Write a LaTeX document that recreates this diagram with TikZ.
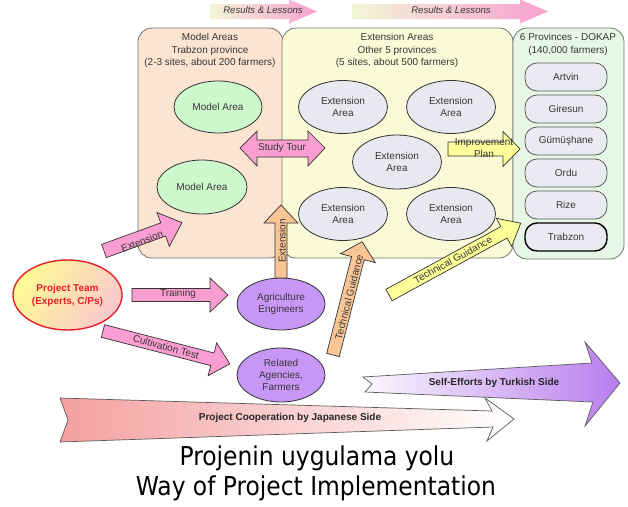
\documentclass[tikz,border=0pt]{standalone}
\usepackage{fontspec}
\setmainfont{Liberation Sans}
\newfontfamily\titlefont{DejaVu Sans Condensed}
\usetikzlibrary{shapes.geometric}
\definecolor{txt}{RGB}{55,55,55}
\definecolor{boxline}{RGB}{115,115,115}
\definecolor{darkline}{RGB}{50,50,50}
\definecolor{peach}{RGB}{251,228,208}
\definecolor{extbg}{RGB}{250,251,214}
\definecolor{provbg}{RGB}{230,247,230}
\definecolor{mgreen}{RGB}{204,248,204}
\definecolor{egray}{RGB}{232,232,240}
\definecolor{pgray}{RGB}{234,234,242}
\definecolor{purp}{RGB}{200,150,245}
\definecolor{pinkA}{RGB}{250,158,210}
\definecolor{orangeA}{RGB}{250,198,150}
\definecolor{yellowA}{RGB}{255,255,153}
\definecolor{resL}{RGB}{242,246,214}
\definecolor{resR}{RGB}{248,160,208}
\definecolor{japL}{RGB}{244,160,160}
\definecolor{turL}{RGB}{250,248,253}
\definecolor{turR}{RGB}{185,125,238}
\definecolor{ptred}{RGB}{230,30,40}
\definecolor{ptyel}{RGB}{255,250,150}
\definecolor{ptpink}{RGB}{248,200,205}
\newcommand{\blockarrow}[7]{%
  \begin{scope}[shift={(#2)},rotate=#3]
    \path[#1] (0,-#5) -- ({#4-#7},-#5) -- ({#4-#7},-#6) -- (#4,0) -- ({#4-#7},#6) -- ({#4-#7},#5) -- (0,#5) -- cycle;
  \end{scope}}
\begin{document}
\begin{tikzpicture}[x=1pt,y=-1pt,
  lbl/.style={font=\fontsize{10}{12}\selectfont, text=txt, inner sep=0pt, align=center},
  hdr/.style={font=\fontsize{10}{12.5}\selectfont, text=txt, inner sep=0pt, align=center},
  areabox/.style={draw=boxline, line width=0.8pt, rounded corners=14pt, inner sep=0pt},
  ell/.style={ellipse, draw=darkline, line width=0.8pt, inner sep=0pt, font=\fontsize{10}{12}\selectfont, text=txt, align=center},
  pill/.style={draw=darkline!80, line width=0.8pt, rounded corners=12pt, fill=pgray, minimum width=82pt, minimum height=28pt, inner sep=0pt, font=\fontsize{10}{12}\selectfont, text=txt},
  arrline/.style={draw=darkline, line width=0.7pt},
  pinkarr/.style={arrline, fill=pinkA},
  orangearr/.style={arrline, fill=orangeA},
  yellowarr/.style={arrline, fill=yellowA},
  resarr/.style={left color=resL, right color=resR},
  bold/.style={font=\bfseries\fontsize{10}{12}\selectfont, text=black!85, inner sep=0pt}
]
\useasboundingbox (0,0) rectangle (628,506);
\fill[white] (0,0) rectangle (628,506);

% Results & Lessons arrows
\blockarrow{resarr}{210,11.5}{0}{107}{7.5}{12}{28}
\blockarrow{resarr}{352,11.5}{0}{196}{7.5}{12}{28}
\node[lbl, font=\itshape\fontsize{9.6}{12}\selectfont] (res1) at (263,10.5) {Results \& Lessons};
\node[lbl, font=\itshape\fontsize{9.6}{12}\selectfont] (res2) at (451,10.5) {Results \& Lessons};

% Area boxes
\node[areabox, fill=peach, minimum width=145pt, minimum height=230pt] (mbox) at (210.5,143) {};
\node[areabox, fill=extbg, minimum width=231pt, minimum height=230pt] (ebox) at (397.5,143) {};
\node[areabox, fill=provbg, minimum width=111pt, minimum height=231pt] (pbox) at (568.5,143.5) {};

\node[hdr] (mhdr) at (210,50.5) {Model Areas\\Trabzon province\\(2-3 sites, about 200 farmers)};
\node[hdr] (ehdr) at (397,50.5) {Extension Areas\\Other 5 provinces\\(5 sites, about 500 farmers)};
\node[hdr] (phdr) at (568,44.5) {6 Provinces - DOKAP\\(140,000 farmers)};

% Model areas
\node[ell, fill=mgreen, minimum width=88pt, minimum height=52pt] (ma1) at (218,107) {Model Area};
\node[ell, fill=mgreen, minimum width=90pt, minimum height=54pt] (ma2) at (202,187) {Model Area};

% Extension areas
\node[ell, fill=egray, minimum width=89pt, minimum height=53pt] (ea1) at (343,107) {Extension\\Area};
\node[ell, fill=egray, minimum width=89pt, minimum height=53pt] (ea2) at (451,107) {Extension\\Area};
\node[ell, fill=egray, minimum width=89pt, minimum height=54pt] (ea3) at (397,162) {Extension\\Area};
\node[ell, fill=egray, minimum width=89pt, minimum height=53pt] (ea4) at (343,214) {Extension\\Area};
\node[ell, fill=egray, minimum width=89pt, minimum height=53pt] (ea5) at (451,214) {Extension\\Area};

% Provinces
\node[pill] (artvin) at (566,77) {Artvin};
\node[pill] (giresun) at (566,109) {Giresun};
\node[pill] (gumus) at (566,141) {Gümüşhane};
\node[pill] (ordu) at (566,173) {Ordu};
\node[pill] (rize) at (566,205) {Rize};
\node[pill, draw=black, line width=1.4pt] (trabzon) at (566,237) {Trabzon};

% Study tour double arrow
\path[pinkarr] (240,148) -- (257,131) -- (257,140) -- (308,140) -- (308,131) -- (325,148) -- (308,166) -- (308,157) -- (257,157) -- (257,166) -- cycle;
\node[lbl] (study) at (282,148) {Study Tour};

% Improvement plan arrow
\blockarrow{yellowarr}{448,149}{0}{72}{7}{17.5}{17}
\node[lbl] (impr) at (484,148) {Improvement\\Plan};

% Project team and targets
\node[ell, draw=ptred, line width=1.4pt, left color=ptyel, right color=ptpink, shading angle=60, minimum width=109pt, minimum height=70pt, font=\bfseries\fontsize{10}{13}\selectfont, text=ptred] (team) at (67.5,295) {Project Team\\(Experts, C/Ps)};
\node[ell, fill=purp, minimum width=88pt, minimum height=52pt] (agri) at (281,304) {Agriculture\\Engineers};
\node[ell, fill=purp, minimum width=88pt, minimum height=54pt] (rel) at (281,375) {Related\\Agencies,\\Farmers};

% Pink arrows from team
\blockarrow{pinkarr}{104,251}{20}{83}{7}{18}{20}
\node[lbl, rotate=21] (lext1) at (142,241) {Extension};
\blockarrow{pinkarr}{132,295}{0}{96}{6.5}{17}{18}
\node[lbl] (ltrain) at (178,294) {Training};
\blockarrow{pinkarr}{103,331}{-14.5}{131}{6.5}{17}{18}
\node[lbl, rotate=-15] (lcult) at (166,347) {Cultivation Test};

% Orange arrows
\blockarrow{orangearr}{281,278}{90}{73}{6}{17}{18}
\node[lbl, rotate=90] (lext2) at (282,241) {Extension};
\blockarrow{orangearr}{333,355}{75.6}{117}{6.5}{18}{17}
\node[lbl, rotate=75.6] (ltg1) at (349,297) {Technical Guidance};

% Yellow technical guidance
\blockarrow{yellowarr}{389,295}{28.6}{150}{6.5}{16}{19}
\node[lbl, rotate=28.6] (ltg2) at (453,260) {Technical Guidance};

% Big bottom arrows
\path[draw=darkline!80, line width=0.7pt, left color=turL, right color=turR]
  (363,377) -- (592,363) -- (585,342) -- (620,383) -- (585,426) -- (593,402) -- (365,392) -- (372,384) -- cycle;
\node[bold] (turk) at (494,383) {Self-Efforts by Turkish Side};
\path[draw=darkline!80, line width=0.7pt, left color=japL, right color=white]
  (60,398) -- (492,411) -- (485,398) -- (514,419) -- (487,441) -- (493,427) -- (60,442) -- (68,420) -- cycle;
\node[bold] (jap) at (290,418) {Project Cooperation by Japanese Side};

% Title
\node[font=\titlefont\fontsize{26}{30}\selectfont, anchor=base, inner sep=0pt] (t1) at (317,465) {Projenin uygulama yolu};
\node[font=\titlefont\fontsize{26}{30}\selectfont, anchor=base, inner sep=0pt] (t2) at (316,495) {Way of Project Implementation};
\end{tikzpicture}
\end{document}
